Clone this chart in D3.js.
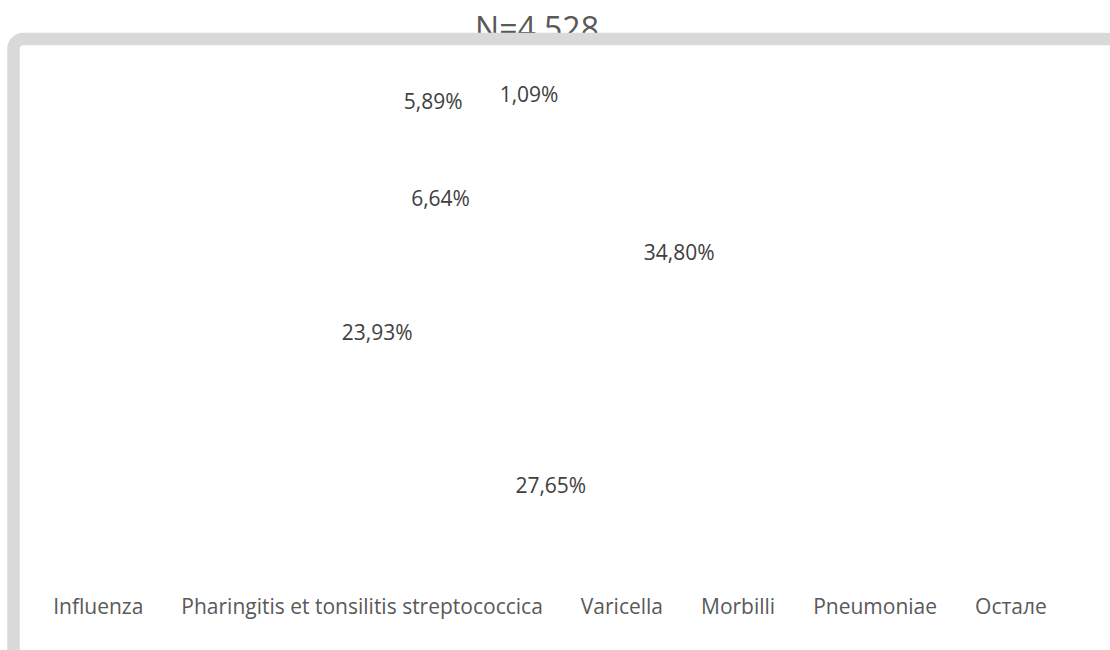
<!DOCTYPE html>
<html><head><meta charset="utf-8">
<script src="https://cdn.jsdelivr.net/npm/d3@7"></script>
<style>html,body{margin:0;padding:0;background:#fff;}svg{display:block;}</style>
</head><body>
<script>
const categories = ["Influenza","Pharingitis et tonsilitis streptococcica","Varicella","Morbilli","Pneumoniae","Остале"];
const values = [34.80, 27.65, 23.93, 6.64, 5.89, 1.09];
const title = "N=4 528";

const W = 1110, H = 650;
const FONT = "'Open Sans', sans-serif";
const svg = d3.select("body").append("svg").attr("width", W).attr("height", H);

const loc = d3.formatLocale({decimal: ",", thousands: " ", grouping: [3], currency: ["", ""]});
const fmt = v => loc.format(".2f")(v) + "%";

// title (partly hidden behind frame, like the reference)
svg.append("text").attr("x", 537).attr("y", 40).attr("text-anchor", "middle")
  .attr("font-family", FONT).attr("font-size", 32).attr("fill", "#595959").text(title);

svg.append("rect").attr("x", 0).attr("y", 33).attr("width", W).attr("height", H).attr("fill", "#fff");
// frame
svg.append("rect").attr("x", 13.5).attr("y", 39).attr("width", W + 40).attr("height", H + 40)
  .attr("rx", 10).attr("fill", "none").attr("stroke", "#d9d9d9").attr("stroke-width", 12.5);

const cx = 537, cy = 326;
const pie = d3.pie().sort(null).value(d => d)(values);
const g = svg.append("g").attr("transform", `translate(${cx},${cy})`);
const inArc = d3.arc().innerRadius(160).outerRadius(160);
const outArc = d3.arc().innerRadius(232).outerRadius(232);

// slices (invisible, like the reference)
g.selectAll("path.slice").data(pie).join("path").attr("class", "slice")
  .attr("d", d3.arc().innerRadius(0).outerRadius(200)).attr("fill", "none");

const labels = g.selectAll("text.lbl").data(pie).join("text").attr("class", "lbl")
  .attr("text-anchor", "middle").attr("dominant-baseline", "central")
  .attr("font-family", FONT).attr("font-size", 21).attr("fill", "#404040")
  .text(d => fmt(d.data))
  .each(function(d) {
    const p = (d.data < 6 ? outArc : inArc).centroid(d);
    d.lx = p[0]; d.ly = p[1];
  });
// resolve overlaps of outside labels (shift left)
const outs = pie.filter(d => d.data < 6).sort((a, b) => b.startAngle - a.startAngle);
labels.each(function(d) { d.w = this.getComputedTextLength(); });
for (let i = 1; i < outs.length; i++) {
  const prev = outs[i - 1], cur = outs[i];
  const maxRight = prev.lx - prev.w / 2 - 37;
  if (cur.lx + cur.w / 2 > maxRight) cur.lx = maxRight - cur.w / 2;
}
labels.attr("x", d => d.lx).attr("y", d => d.ly);

// legend (no visible swatches)
const leg = svg.append("g");
const items = leg.selectAll("text").data(categories).join("text")
  .attr("font-family", FONT).attr("font-size", 21).attr("fill", "#595959")
  .attr("y", 606).attr("dominant-baseline", "central").text(d => d);
const widths = []; items.each(function() { widths.push(this.getComputedTextLength()); });
const gap = 38;
const total = d3.sum(widths) + gap * (widths.length - 1);
let x = 550 - total / 2;
items.each(function(d, i) { d3.select(this).attr("x", x); x += widths[i] + gap; });
</script>
</body></html>
